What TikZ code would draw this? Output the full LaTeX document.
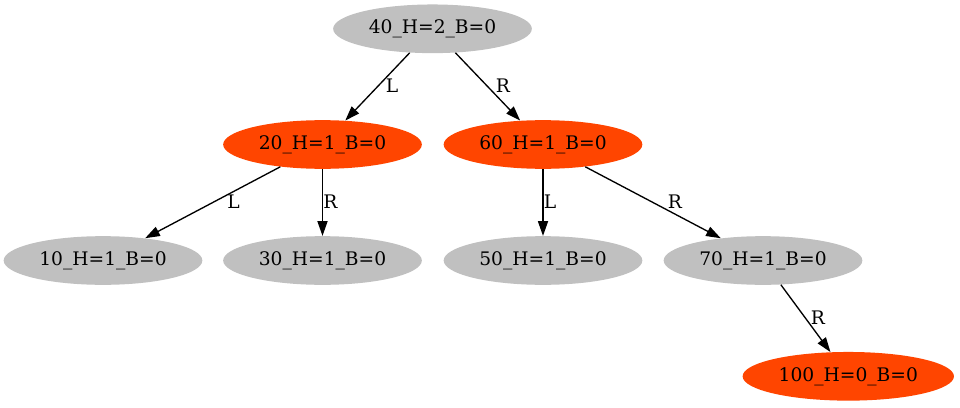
\documentclass[tikz,border=0pt]{standalone}
\usepackage{fontspec}
\setmainfont{DejaVu Serif}
\usetikzlibrary{shapes.geometric,arrows.meta}
\definecolor{nodegray}{HTML}{C0C0C0}
\definecolor{nodered}{HTML}{FF4500}
\begin{document}
\begin{tikzpicture}[x=0.75pt,y=-0.75pt,
  tnode/.style={ellipse, inner sep=0pt, minimum width=149pt, minimum height=36.5pt,
    font=\fontsize{14pt}{16pt}\selectfont},
  plain/.style={tnode, fill=nodegray},
  hot/.style={tnode, fill=nodered},
  edge/.style={-{Triangle[length=11pt,width=7.5pt]}, line width=1pt},
  lbl/.style={inner sep=0pt, font=\fontsize{14pt}{16pt}\selectfont}]
\useasboundingbox[fill=white] (0,0) rectangle (960,407);

% tree nodes
\node[plain] (n40) at (432.5,28.8) {40\_H=2\_B=0};
\node[hot]   (n20) at (322.5,144.5) {20\_H=1\_B=0};
\node[hot]   (n60) at (543,144.5) {60\_H=1\_B=0};
\node[plain] (n10) at (103,260.5) {10\_H=1\_B=0};
\node[plain] (n30) at (322.5,260.5) {30\_H=1\_B=0};
\node[plain] (n50) at (543,260.5) {50\_H=1\_B=0};
\node[plain] (n70) at (763,260.5) {70\_H=1\_B=0};
\node[hot, minimum width=158.5pt] (n100) at (848.3,376.3) {100\_H=0\_B=0};

% child links
\draw[edge] (n40) -- (n20);
\draw[edge] (n40) -- (n60);
\draw[edge] (n20) -- (n10);
\draw[edge] (n20) -- (n30);
\draw[edge] (n60) -- (n50);
\draw[edge] (n60) -- (n70);
\draw[edge] (n70) -- (n100);

% link labels
\node[lbl] (l1) at (392,85.5) {L};
\node[lbl] (l2) at (503,85.5) {R};
\node[lbl] (l3) at (233.5,201.5) {L};
\node[lbl] (l4) at (330.5,201.5) {R};
\node[lbl] (l5) at (550,201.5) {L};
\node[lbl] (l6) at (675,201.5) {R};
\node[lbl] (l7) at (818,318) {R};
\end{tikzpicture}
\end{document}
